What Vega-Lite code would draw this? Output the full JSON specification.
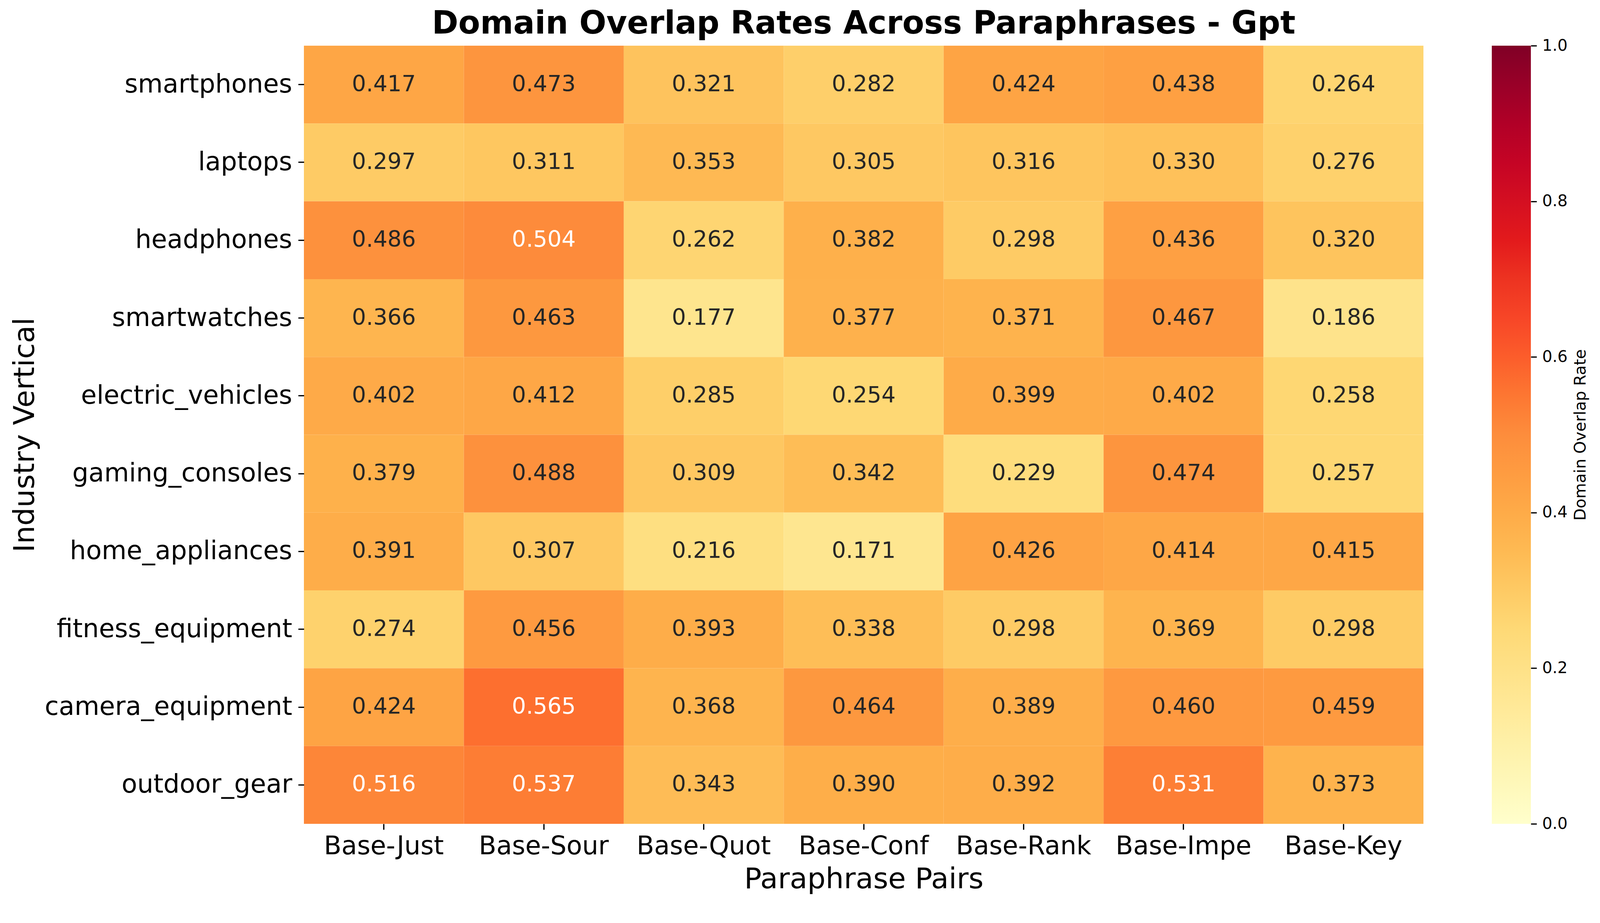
{
  "$schema": "https://vega.github.io/schema/vega-lite/v6.json",
  "autosize": {"type": "none"},
  "padding": {"left": 778, "top": 117, "right": 452, "bottom": 209},
  "width": 2866,
  "height": 1993,
  "background": "white",
  "config": {"font": "DejaVu Sans", "view": {"stroke": null}},
  "title": {
    "text": "Domain Overlap Rates Across Paraphrases - Gpt",
    "fontSize": 81.4,
    "fontWeight": "bold",
    "color": "black",
    "anchor": "middle",
    "baseline": "alphabetic",
    "offset": -71
  },
  "data": {"values": [
    {"v": "smartphones", "p": "Base-Just", "r": 0.417},
    {"v": "smartphones", "p": "Base-Sour", "r": 0.473},
    {"v": "smartphones", "p": "Base-Quot", "r": 0.321},
    {"v": "smartphones", "p": "Base-Conf", "r": 0.282},
    {"v": "smartphones", "p": "Base-Rank", "r": 0.424},
    {"v": "smartphones", "p": "Base-Impe", "r": 0.438},
    {"v": "smartphones", "p": "Base-Key", "r": 0.264},
    {"v": "laptops", "p": "Base-Just", "r": 0.297},
    {"v": "laptops", "p": "Base-Sour", "r": 0.311},
    {"v": "laptops", "p": "Base-Quot", "r": 0.353},
    {"v": "laptops", "p": "Base-Conf", "r": 0.305},
    {"v": "laptops", "p": "Base-Rank", "r": 0.316},
    {"v": "laptops", "p": "Base-Impe", "r": 0.330},
    {"v": "laptops", "p": "Base-Key", "r": 0.276},
    {"v": "headphones", "p": "Base-Just", "r": 0.486},
    {"v": "headphones", "p": "Base-Sour", "r": 0.504},
    {"v": "headphones", "p": "Base-Quot", "r": 0.262},
    {"v": "headphones", "p": "Base-Conf", "r": 0.382},
    {"v": "headphones", "p": "Base-Rank", "r": 0.298},
    {"v": "headphones", "p": "Base-Impe", "r": 0.436},
    {"v": "headphones", "p": "Base-Key", "r": 0.320},
    {"v": "smartwatches", "p": "Base-Just", "r": 0.366},
    {"v": "smartwatches", "p": "Base-Sour", "r": 0.463},
    {"v": "smartwatches", "p": "Base-Quot", "r": 0.177},
    {"v": "smartwatches", "p": "Base-Conf", "r": 0.377},
    {"v": "smartwatches", "p": "Base-Rank", "r": 0.371},
    {"v": "smartwatches", "p": "Base-Impe", "r": 0.467},
    {"v": "smartwatches", "p": "Base-Key", "r": 0.186},
    {"v": "electric_vehicles", "p": "Base-Just", "r": 0.402},
    {"v": "electric_vehicles", "p": "Base-Sour", "r": 0.412},
    {"v": "electric_vehicles", "p": "Base-Quot", "r": 0.285},
    {"v": "electric_vehicles", "p": "Base-Conf", "r": 0.254},
    {"v": "electric_vehicles", "p": "Base-Rank", "r": 0.399},
    {"v": "electric_vehicles", "p": "Base-Impe", "r": 0.402},
    {"v": "electric_vehicles", "p": "Base-Key", "r": 0.258},
    {"v": "gaming_consoles", "p": "Base-Just", "r": 0.379},
    {"v": "gaming_consoles", "p": "Base-Sour", "r": 0.488},
    {"v": "gaming_consoles", "p": "Base-Quot", "r": 0.309},
    {"v": "gaming_consoles", "p": "Base-Conf", "r": 0.342},
    {"v": "gaming_consoles", "p": "Base-Rank", "r": 0.229},
    {"v": "gaming_consoles", "p": "Base-Impe", "r": 0.474},
    {"v": "gaming_consoles", "p": "Base-Key", "r": 0.257},
    {"v": "home_appliances", "p": "Base-Just", "r": 0.391},
    {"v": "home_appliances", "p": "Base-Sour", "r": 0.307},
    {"v": "home_appliances", "p": "Base-Quot", "r": 0.216},
    {"v": "home_appliances", "p": "Base-Conf", "r": 0.171},
    {"v": "home_appliances", "p": "Base-Rank", "r": 0.426},
    {"v": "home_appliances", "p": "Base-Impe", "r": 0.414},
    {"v": "home_appliances", "p": "Base-Key", "r": 0.415},
    {"v": "fitness_equipment", "p": "Base-Just", "r": 0.274},
    {"v": "fitness_equipment", "p": "Base-Sour", "r": 0.456},
    {"v": "fitness_equipment", "p": "Base-Quot", "r": 0.393},
    {"v": "fitness_equipment", "p": "Base-Conf", "r": 0.338},
    {"v": "fitness_equipment", "p": "Base-Rank", "r": 0.298},
    {"v": "fitness_equipment", "p": "Base-Impe", "r": 0.369},
    {"v": "fitness_equipment", "p": "Base-Key", "r": 0.298},
    {"v": "camera_equipment", "p": "Base-Just", "r": 0.424},
    {"v": "camera_equipment", "p": "Base-Sour", "r": 0.565},
    {"v": "camera_equipment", "p": "Base-Quot", "r": 0.368},
    {"v": "camera_equipment", "p": "Base-Conf", "r": 0.464},
    {"v": "camera_equipment", "p": "Base-Rank", "r": 0.389},
    {"v": "camera_equipment", "p": "Base-Impe", "r": 0.460},
    {"v": "camera_equipment", "p": "Base-Key", "r": 0.459},
    {"v": "outdoor_gear", "p": "Base-Just", "r": 0.516},
    {"v": "outdoor_gear", "p": "Base-Sour", "r": 0.537},
    {"v": "outdoor_gear", "p": "Base-Quot", "r": 0.343},
    {"v": "outdoor_gear", "p": "Base-Conf", "r": 0.390},
    {"v": "outdoor_gear", "p": "Base-Rank", "r": 0.392},
    {"v": "outdoor_gear", "p": "Base-Impe", "r": 0.531},
    {"v": "outdoor_gear", "p": "Base-Key", "r": 0.373}
  ]},
  "encoding": {
    "x": {
      "field": "p", "type": "nominal", "sort": null,
      "scale": {"paddingInner": 0, "paddingOuter": 0},
      "axis": {
        "title": "Paraphrase Pairs",
        "titleFontSize": 73.6, "titleFontWeight": "normal", "titleColor": "black",
        "titleBaseline": "alphabetic", "titleY": 164,
        "labelFontSize": 65.4, "labelColor": "black", "labelAngle": 0, "labelLimit": 1000,
        "labelPadding": 10.8, "tickSize": 14.7, "tickWidth": 3.2, "tickColor": "black",
        "domain": false, "grid": false
      }
    }
  },
  "layer": [
    {
      "mark": {"type": "rect"},
      "encoding": {
        "y": {
          "field": "v", "type": "nominal", "sort": null,
          "scale": {"paddingInner": 0, "paddingOuter": 0},
          "axis": {
            "title": "Industry Vertical",
            "titleFontSize": 73.6, "titleFontWeight": "normal", "titleColor": "black",
            "titleBaseline": "alphabetic", "titleAngle": 270, "titleX": -692, "titleY": 996.5,
            "labelFontSize": 65.4, "labelColor": "black", "labelLimit": 1000,
            "labelPadding": 15.7, "tickSize": 14.7, "tickWidth": 3.2, "tickColor": "black",
            "domain": false, "grid": false
          }
        },
        "color": {
          "field": "r", "type": "quantitative",
          "scale": {
            "domain": [0, 0.125, 0.25, 0.375, 0.5, 0.625, 0.75, 0.875, 1],
            "range": ["#ffffcc", "#ffeda0", "#fed976", "#feb24c", "#fd8d3c", "#fc4e2a", "#e31a1c", "#bd0026", "#800026"]
          },
          "legend": {
            "title": null,
            "orient": "none", "legendX": 3041, "legendY": 0,
            "padding": 0, "offset": 0,
            "direction": "vertical",
            "gradientLength": 1993, "gradientThickness": 100,
            "gradientStrokeWidth": 0,
            "values": [0, 1],
            "labelOpacity": 0, "labelFontSize": 1
          }
        }
      }
    },
    {
      "mark": {"type": "text", "fontSize": 57.2, "align": "center", "baseline": "middle"},
      "encoding": {
        "y": {"field": "v", "type": "nominal", "sort": null, "axis": null},
        "text": {"field": "r", "type": "quantitative", "format": ".3f"},
        "color": {
          "condition": {"test": "datum.r >= 0.5", "value": "white"},
          "value": "#262626"
        }
      }
    },
    {
      "mark": {"type": "point", "opacity": 0},
      "encoding": {
        "y": {
          "field": "r", "type": "quantitative",
          "scale": {"domain": [0, 1], "nice": false, "zero": false},
          "axis": {
            "orient": "right", "offset": 275,
            "values": [0, 0.2, 0.4, 0.6, 0.8, 1.0], "format": ".1f",
            "tickSize": 14.7, "tickWidth": 3.2, "tickColor": "black",
            "labelFontSize": 40.9, "labelColor": "black", "labelPadding": 13.7,
            "labelOverlap": false, "labelFlush": false,
            "domain": false, "grid": false,
            "title": "Domain Overlap Rate",
            "titleFontSize": 40.9, "titleFontWeight": "normal", "titleColor": "black",
            "titleBaseline": "alphabetic", "titleAngle": 270, "titleX": 139, "titleY": 996.5
          }
        }
      }
    }
  ],
  "resolve": {"scale": {"y": "independent"}, "axis": {"y": "independent"}}
}
